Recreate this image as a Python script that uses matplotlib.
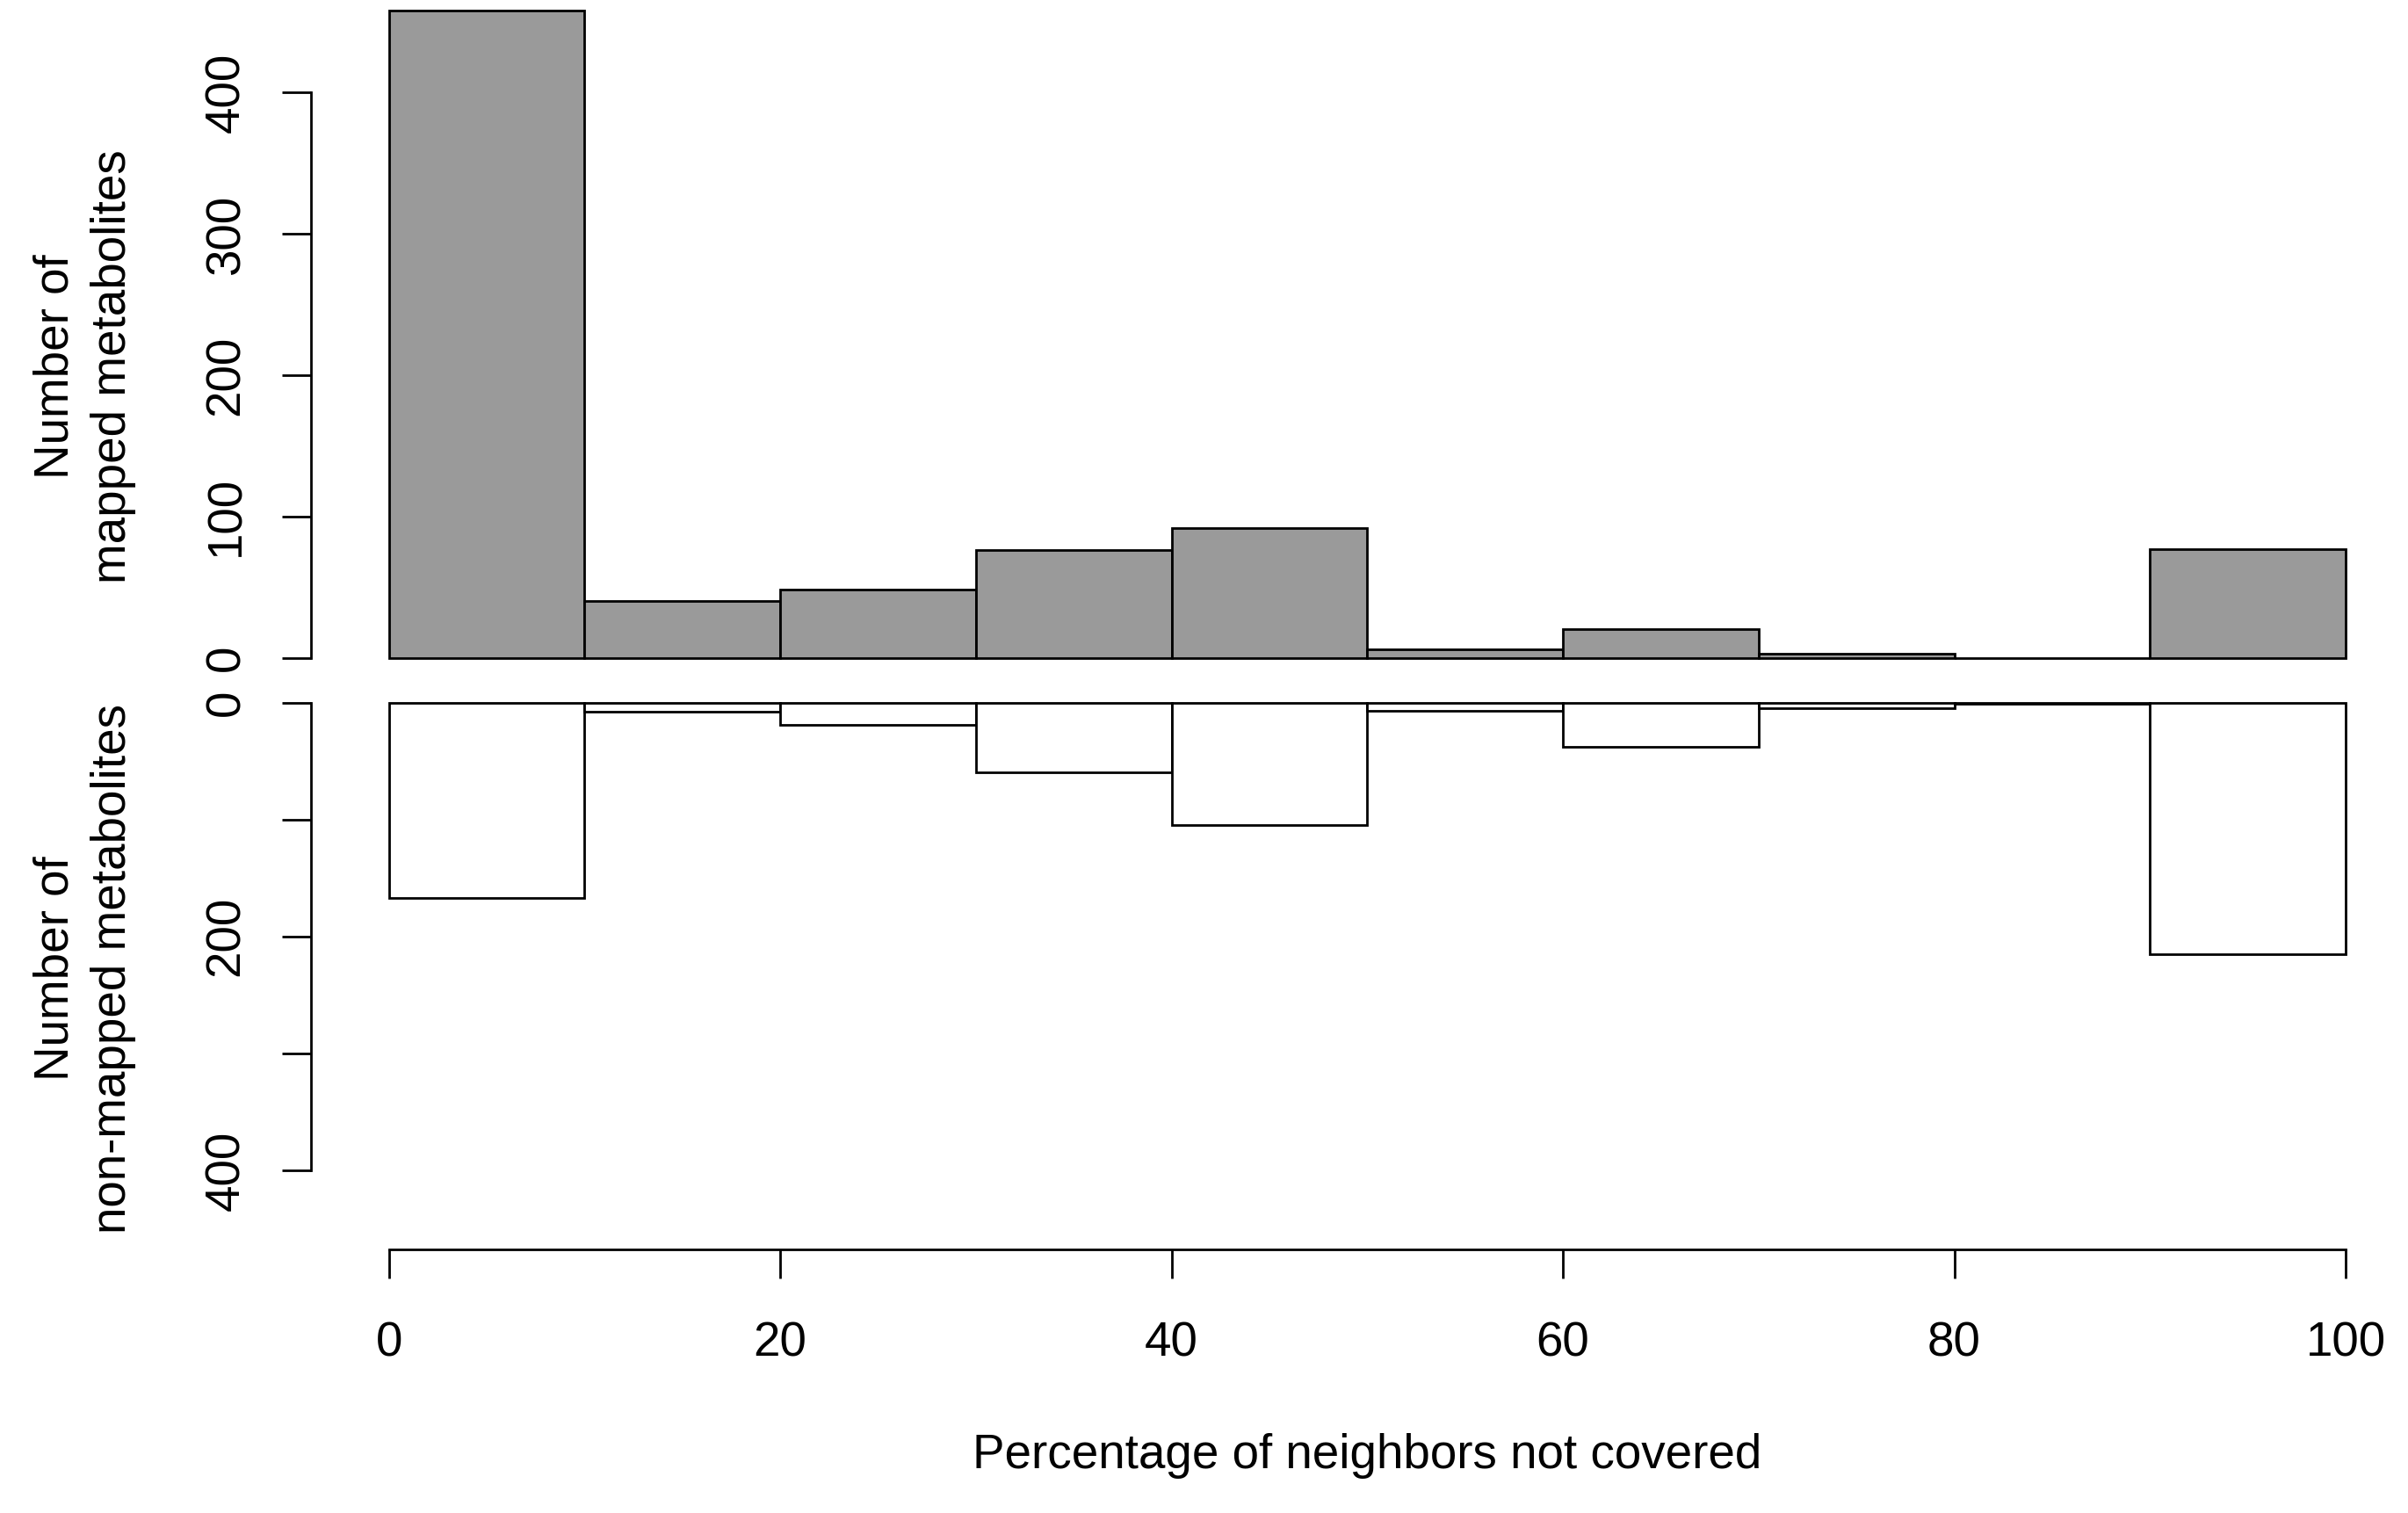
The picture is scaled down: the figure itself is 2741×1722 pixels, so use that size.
import matplotlib
matplotlib.use("Agg")
import matplotlib.pyplot as plt

# ---- data ----
bin_edges = [0, 10, 20, 30, 40, 50, 60, 70, 80, 90, 100]
mapped_counts = [458, 40, 48, 76, 92, 6, 20, 3, 0, 77]
nonmapped_counts = [167, 8, 19, 60, 105, 7, 38, 5, 1, 215]
x_ticks = [0, 20, 40, 60, 80, 100]
top_yticks = [0, 100, 200, 300, 400]
bottom_yticks = [0, 100, 200, 300, 400]
bottom_ytick_labels = ["0", "", "200", "", "400"]
xlabel = "Percentage of neighbors not covered"
top_ylabel = "Number of\nmapped metabolites"
bottom_ylabel = "Number of\nnon-mapped metabolites"

plt.rcParams["font.family"] = ["Liberation Sans", "DejaVu Sans"]
FS = 19.7
LW = 1.0

fig = plt.figure(figsize=(2741 / 200, 1722 / 200), dpi=200)
left, width = 0.1290, 0.8776
lefts = bin_edges[:-1]
widths = [b - a for a, b in zip(bin_edges[:-1], bin_edges[1:])]

# ---- top panel ----
ax1 = fig.add_axes([left, 0.5653, width, 0.4343])
ax1.patch.set_visible(False)
ax1.bar(lefts, mapped_counts, width=widths, align="edge", color="#9a9a9a",
        edgecolor="black", linewidth=LW, clip_on=False)
ax1.set_xlim(-4, 104)
ax1.set_ylim(0, 465)
for s in ("top", "right", "bottom"):
    ax1.spines[s].set_visible(False)
ax1.spines["left"].set_bounds(0, 400)
ax1.spines["left"].set_linewidth(LW)
ax1.set_xticks([])
ax1.set_yticks(top_yticks)
ax1.set_yticklabels([str(v) for v in top_yticks])
ax1.tick_params(axis="y", length=12, width=LW, pad=13, labelsize=FS,
                labelrotation=90)
for lab in ax1.get_yticklabels():
    lab.set_va("center")

# ---- bottom panel ----
ax2 = fig.add_axes([left, 0.1744, width, 0.3613])
ax2.patch.set_visible(False)
ax2.bar(lefts, nonmapped_counts, width=widths, align="edge", color="white",
        edgecolor="black", linewidth=LW, clip_on=False)
ax2.set_xlim(-4, 104)
ax2.set_ylim(467.4, 0)
for s in ("top", "right"):
    ax2.spines[s].set_visible(False)
ax2.spines["left"].set_bounds(0, 400)
ax2.spines["bottom"].set_bounds(0, 100)
ax2.spines["left"].set_linewidth(LW)
ax2.spines["bottom"].set_linewidth(LW)
ax2.set_yticks(bottom_yticks)
ax2.set_yticklabels(bottom_ytick_labels)
ax2.tick_params(axis="y", length=12, width=LW, pad=13, labelsize=FS,
                labelrotation=90)
for lab in ax2.get_yticklabels():
    lab.set_va("center")
ax2.set_xticks(x_ticks)
ax2.set_xticklabels([str(v) for v in x_ticks])
ax2.tick_params(axis="x", length=12, width=LW, pad=17.5, labelsize=FS)

# ---- labels ----
fig.text(0.035, 0.758, top_ylabel, rotation=90, ha="center", va="center",
         multialignment="center", fontsize=FS, linespacing=1.33)
fig.text(0.035, 0.360, bottom_ylabel, rotation=90, ha="center", va="center",
         multialignment="center", fontsize=FS, linespacing=1.33)
fig.text(left + width / 2, 0.038, xlabel, ha="center", va="center", fontsize=FS)

fig.savefig("out.png", dpi=200, facecolor="white")
